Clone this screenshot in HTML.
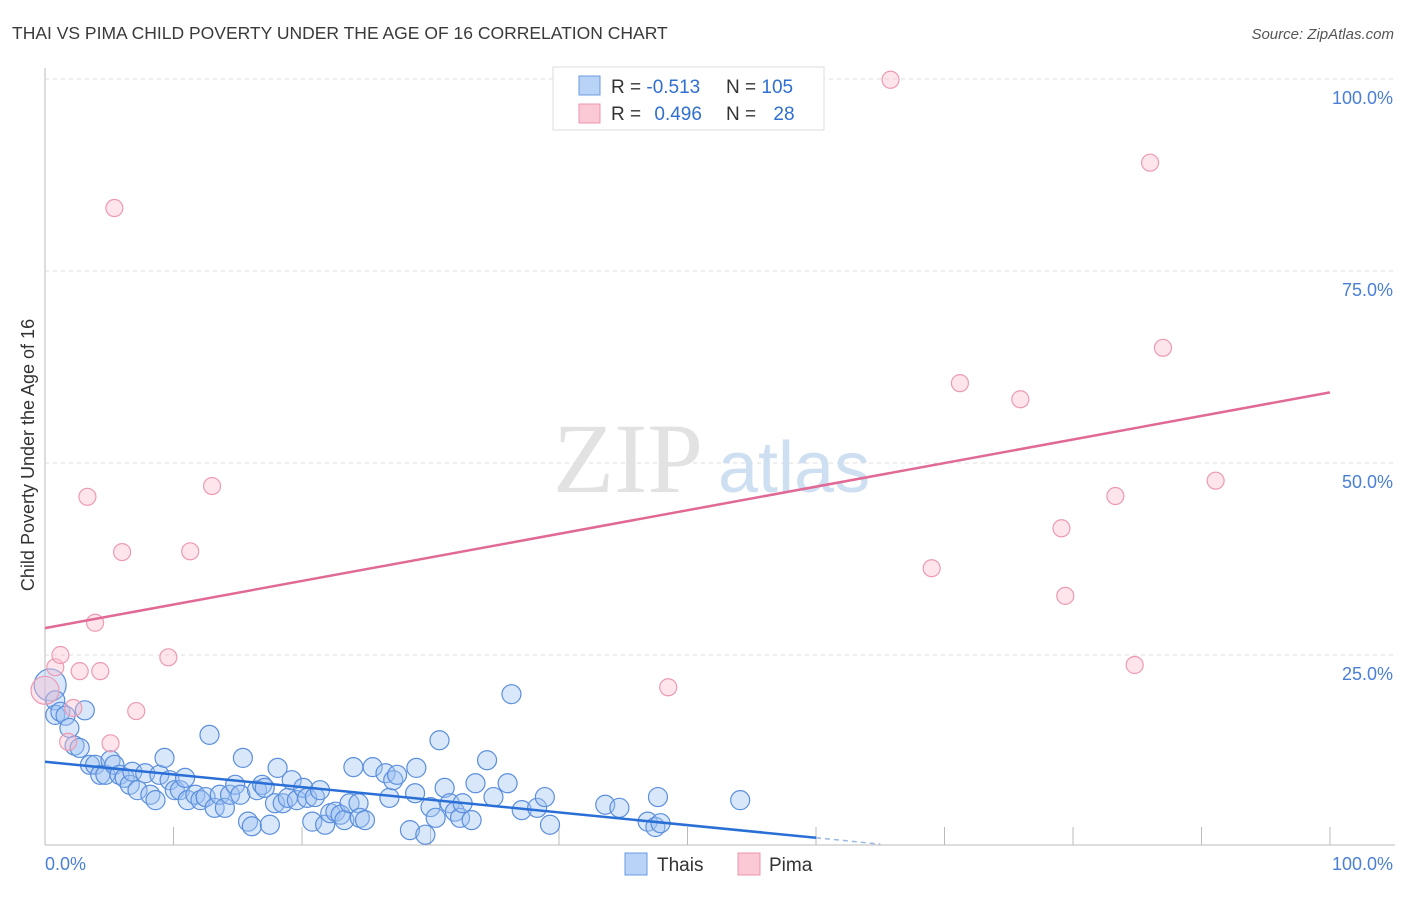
<!DOCTYPE html>
<html><head><meta charset="utf-8"><style>
body{margin:0;background:#fff;font-family:"Liberation Sans",sans-serif}
svg text{font-family:"Liberation Sans",sans-serif}
</style></head><body>
<svg id="c" width="1406" height="892">
<text x="12" y="39" font-size="17.5" fill="#3a3a3a">THAI VS PIMA CHILD POVERTY UNDER THE AGE OF 16 CORRELATION CHART</text>
<text x="1394" y="39" font-size="15" fill="#555" font-style="italic" text-anchor="end">Source: ZipAtlas.com</text>
<g id="grid"></g>
<text x="553" y="492" font-size="100" fill="#e2e2e2" style="font-family:'Liberation Serif',serif">ZIP</text>
<text x="718" y="492" font-size="72" fill="#cfdff2">atlas</text>
<g id="pts"></g>
<g id="lines"></g>
<text transform="translate(34,455) rotate(-90)" font-size="18" fill="#333" text-anchor="middle">Child Poverty Under the Age of 16</text>
<text x="45" y="870" font-size="18" fill="#4a7fd4">0.0%</text>
<text x="1393" y="870" font-size="18" fill="#4a7fd4" text-anchor="end">100.0%</text>
<g>
<rect x="553" y="67" width="271" height="63" fill="#fff" stroke="#ddd"/>
<rect x="579" y="76" width="21" height="19" fill="#b8d3f5" stroke="#6a9be0"/>
<rect x="579" y="104" width="21" height="19" fill="#fbc8d6" stroke="#ee95ae"/>
<text x="611" y="93" font-size="19" fill="#333">R = <tspan fill="#2f6fd0">-0.513</tspan></text>
<text x="726" y="93" font-size="19" fill="#333">N = <tspan fill="#2f6fd0">105</tspan></text>
<text x="611" y="120" font-size="19" fill="#333">R = <tspan fill="#2f6fd0" dx="8">0.496</tspan></text>
<text x="726" y="120" font-size="19" fill="#333">N = <tspan fill="#2f6fd0" dx="12">28</tspan></text>
</g>
<g>
<rect x="625" y="853" width="22" height="22" fill="#b8d3f5" stroke="#6a9be0"/>
<text x="657" y="871" font-size="19" fill="#333">Thais</text>
<rect x="738" y="853" width="22" height="22" fill="#fbc8d6" stroke="#ee95ae"/>
<text x="769" y="871" font-size="19" fill="#333">Pima</text>
</g>
</svg>
<script>
const thaiX=[0.4,0.8,0.8,1.2,1.6,1.9,3.1,2.3,2.7,3.5,3.9,4.3,4.7,5.1,5.4,5.8,6.2,6.6,6.8,7.2,7.8,8.2,8.6,8.9,9.3,9.7,10.1,10.5,10.9,11.1,11.7,12.1,12.5,12.8,13.2,13.6,14.0,14.4,14.8,15.2,15.4,15.8,16.1,16.5,16.9,17.1,17.5,17.9,18.1,18.5,18.9,19.2,19.6,20.1,20.4,20.8,21.0,21.4,21.8,22.2,22.6,23.0,23.3,23.7,24.0,24.4,24.5,24.9,25.5,26.5,26.8,27.1,27.4,28.4,28.8,28.9,29.6,30.0,30.4,30.7,31.1,31.5,31.9,32.3,32.5,33.2,33.5,34.4,34.9,36.0,36.3,37.1,38.3,38.9,39.3,43.6,44.7,46.9,47.5,47.9,47.7,54.1];
const thaiY=[21.1,19.1,17.2,17.6,17.1,15.5,17.8,13.2,12.9,10.7,10.7,9.4,9.4,11.3,10.7,9.4,9.0,8.1,9.8,7.4,9.6,6.8,6.1,9.4,11.6,8.7,7.4,7.4,9.0,6.1,6.8,6.1,6.5,14.6,5.1,6.8,5.1,6.8,8.1,6.8,11.6,3.3,2.7,7.4,8.1,7.7,2.9,5.7,10.3,5.7,6.4,8.7,6.1,7.7,6.4,3.3,6.5,7.4,2.9,4.4,4.6,4.2,3.5,5.7,10.4,5.7,3.8,3.5,10.4,9.6,6.4,8.7,9.4,2.2,7.0,10.3,1.6,5.2,3.8,13.9,7.7,5.7,4.6,3.8,5.7,3.5,8.3,11.3,6.5,8.3,19.9,4.8,5.1,6.5,2.9,5.5,5.1,3.3,2.6,3.1,6.5,6.1];
const pimaX=[0,0.8,1.2,3.3,5.4,6.0,3.9,2.7,4.3,2.2,1.8,5.1,7.1,9.6,11.3,13.0,48.5,65.8,69.0,71.2,75.9,79.1,79.4,83.3,84.8,86.0,87.0,91.1];
const pimaY=[20.4,23.4,25.0,45.6,83.2,38.4,29.2,22.9,22.9,18.1,13.7,13.5,17.7,24.7,38.5,47.0,20.8,99.9,36.3,60.4,58.3,41.5,32.7,45.7,23.7,89.1,65.0,47.7];
const thaiTrend=[11.1,-0.165];
const pimaTrend=[28.5,0.307];
const yTicks=[25,50,75,100];
const yTickLabels=["25.0%","50.0%","75.0%","100.0%"];
const xTicks=[10,20,30,40,50,60,70,80,90,100];
const X=v=>45+v*12.85, Y=v=>847-v*7.68;
const NS="http://www.w3.org/2000/svg";
function mk(t,a,p){const e=document.createElementNS(NS,t);for(const k in a)e.setAttribute(k,a[k]);p.appendChild(e);return e;}
const g=document.getElementById('grid');
let ax=mk('line',{x1:45,y1:68,x2:45,y2:845,stroke:'#bbb'},g);


ax=mk('line',{x1:45,y1:845,x2:1395,y2:845,stroke:'#bbb'},g);


yTicks.forEach((v,i)=>{
 const l=mk('line',{x1:45,y1:Y(v),x2:1395,y2:Y(v),stroke:'#ddd','stroke-dasharray':'4,4'},g);
 
 
 const t=mk('text',{x:1393,y:Y(v)+25,'font-size':18,fill:'#4a7fd4','text-anchor':'end'},g);
 t.textContent=yTickLabels[i];
 
 
});
xTicks.forEach(v=>{
 const l=mk('line',{x1:X(v),y1:827,x2:X(v),y2:845,stroke:'#bbb'},g);
 
 
});
const p=document.getElementById('pts');
thaiX.forEach((x,i)=>{
 const c=mk('circle',{cx:X(x),cy:Y(thaiY[i]),r:i==0?16:9.5,fill:'rgba(160,196,242,0.4)',stroke:'#5b8fdc','stroke-width':1.2},p);
 
 
});
pimaX.forEach((x,i)=>{
 const c=mk('circle',{cx:X(x),cy:Y(pimaY[i]),r:i==0?14:8.5,fill:'rgba(250,190,205,0.4)',stroke:'#ec9ab2','stroke-width':1.2},p);
 
 
});
const L=document.getElementById('lines');
let tl=mk('line',{x1:X(0),y1:Y(thaiTrend[0]),x2:X(60),y2:Y(thaiTrend[0]+thaiTrend[1]*60),stroke:'#2a6fd6','stroke-width':2.5},L);


tl=mk('line',{x1:X(60),y1:Y(thaiTrend[0]+thaiTrend[1]*60),x2:X(65),y2:Y(thaiTrend[0]+thaiTrend[1]*65),stroke:'#9bb8e0','stroke-width':1.5,'stroke-dasharray':'5,4'},L);


tl=mk('line',{x1:X(0),y1:Y(pimaTrend[0]),x2:X(100),y2:Y(pimaTrend[0]+pimaTrend[1]*100),stroke:'#e06a95','stroke-width':2.5},L);


</script>
</body></html>
